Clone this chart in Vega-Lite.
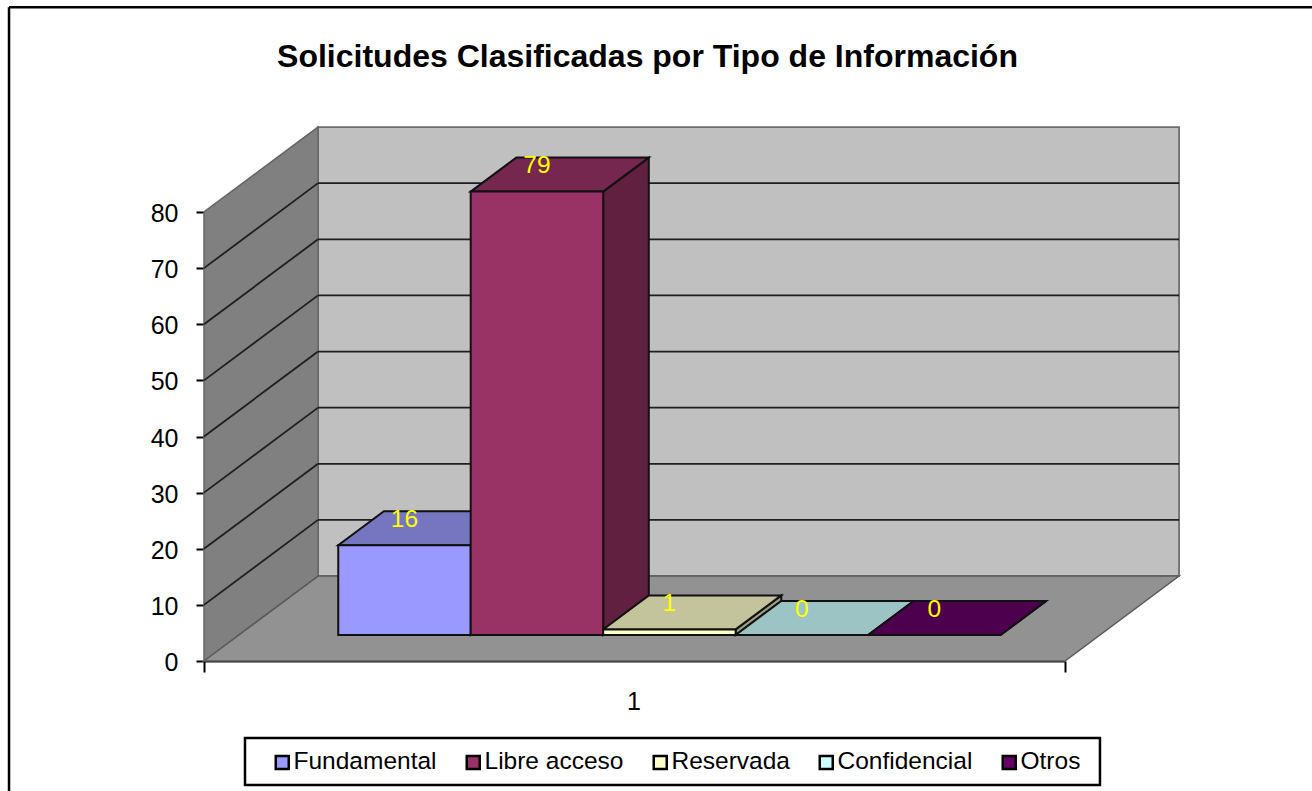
{
"$schema":"https://vega.github.io/schema/vega-lite/v6.json",
"width":861,"height":449,
"autosize":{"type":"none"},
"padding":{"left":204,"top":212,"right":247,"bottom":130},
"background":"white",
"config":{"view":{"stroke":null},"font":"Liberation Sans"},
"title":{"text":"Solicitudes Clasificadas por Tipo de Información","font":"Liberation Sans","fontSize":32,"fontWeight":"bold","color":"#000000","anchor":"middle","frame":"group","dx":13,"offset":-68},
"datasets":{
"barras":[
{"tipo":"Fundamental","orden":0,"valor":16},
{"tipo":"Libre acceso","orden":1,"valor":79},
{"tipo":"Reservada","orden":2,"valor":1},
{"tipo":"Confidencial","orden":3,"valor":0},
{"tipo":"Otros","orden":4,"valor":0}],
"profundidad":[{"d":0},{"d":1}],
"rejilla":[{"v":10},{"v":20},{"v":30},{"v":40},{"v":50},{"v":60},{"v":70}]
},
"resolve":{"scale":{"fill":"independent"}},
"layer":[
{"data":{"values":[{"a":0}]},
 "mark":{"type":"rule","stroke":"#000000","strokeWidth":2.5},
 "encoding":{"x":{"datum":-1.472,"type":"quantitative","scale":{"domain":[0,6.5],"nice":false,"zero":false},"axis":{"values":[0,3.25,6.5],"title":null,"grid":false,"domain":true,"domainColor":"#111111","domainWidth":2,"tickColor":"#000000","tickWidth":2,"tickSize":11,"tickOpacity":{"condition":{"test":"datum.value==3.25","value":0},"value":1},"labelExpr":"datum.value==3.25?'1':''","labelFont":"Liberation Sans","labelFontSize":25,"labelColor":"#000000","labelPadding":17,"labelOffset":-1,"labelFlush":false,"labelOverlap":false}},
 "y":{"datum":116.5,"type":"quantitative","scale":{"domain":[0,80],"nice":false,"zero":false},"axis":{"values":[0,10,20,30,40,50,60,70,80],"title":null,"grid":false,"domain":false,"tickColor":"#000000","tickWidth":2,"tickSize":8,"labelFont":"Liberation Sans","labelFontSize":25,"labelColor":"#000000","labelPadding":18,"labelOffset":1.5}},
 "y2":{"datum":-23.2}}},
{"data":{"values":[{"a":0}]},
 "mark":{"type":"rule","stroke":"#000000","strokeWidth":2.5},
 "encoding":{"x":{"datum":-1.472,"type":"quantitative"},"x2":{"datum":8.4},"y":{"datum":116.5,"type":"quantitative"}}},
{"data":{"values":[{"a":0}]},
 "mark":{"type":"rect","fill":"#C0C0C0","stroke":"#6E6E6E","strokeWidth":1.8},
 "encoding":{"x":{"datum":0.861,"type":"quantitative"},"x2":{"datum":7.361},"y":{"datum":15.14,"type":"quantitative"},"y2":{"datum":95.14}}},
{"data":{"name":"profundidad"},
 "transform":[{"calculate":"datum.d*0.861","as":"x"},{"calculate":"datum.d*15.14","as":"y"},{"calculate":"80+datum.d*15.14","as":"y2"},{"calculate":"6.5+datum.d*0.861","as":"x2"}],
 "layer":[
 {"mark":{"type":"area","fill":"#808080","stroke":"#666666","strokeWidth":1.5},
  "encoding":{"x":{"field":"x","type":"quantitative"},"y":{"field":"y","type":"quantitative","stack":null},"y2":{"field":"y2"}}},
 {"mark":{"type":"area","orient":"horizontal","fill":"#929292","stroke":"#5A5A5A","strokeWidth":1.5},
  "encoding":{"y":{"field":"y","type":"quantitative"},"x":{"field":"x","type":"quantitative","stack":null},"x2":{"field":"x2"}}}
 ]},
{"data":{"name":"rejilla"},
 "transform":[{"calculate":"datum.v+15.14","as":"vf"},{"calculate":"0.861","as":"xf"},{"calculate":"7.361","as":"xe"},{"calculate":"0","as":"x0"}],
 "layer":[
 {"mark":{"type":"rule","stroke":"#1E1E1E","strokeWidth":1.8},
  "encoding":{"x":{"field":"x0","type":"quantitative"},"x2":{"field":"xf"},"y":{"field":"v","type":"quantitative"},"y2":{"field":"vf"}}},
 {"mark":{"type":"rule","stroke":"#1E1E1E","strokeWidth":1.8},
  "encoding":{"x":{"field":"xf","type":"quantitative"},"x2":{"field":"xe"},"y":{"field":"vf","type":"quantitative"}}}
 ]},
{"data":{"name":"barras"},
 "transform":[{"calculate":"[0,1]","as":"e"},{"flatten":["e"]},{"calculate":"0.306+datum.e*0.4","as":"d"},{"calculate":"datum.orden+1.75+0.2635+(datum.d-0.306)*0.861","as":"x"},{"calculate":"datum.d*15.14","as":"y"},{"calculate":"datum.valor+datum.d*15.14","as":"y2"}],
 "mark":{"type":"area","stroke":"#111111","strokeWidth":2},
 "encoding":{"x":{"field":"x","type":"quantitative"},"y":{"field":"y","type":"quantitative","stack":null},"y2":{"field":"y2"},
 "fill":{"field":"tipo","type":"nominal","legend":null,"scale":{"domain":["Fundamental","Libre acceso","Reservada","Confidencial","Otros"],"range":["#5F5F9E","#612040","#9E9E7E","#7E9E9E","#400040"]}}}},
{"data":{"name":"barras"},
 "transform":[{"calculate":"[0,1]","as":"e"},{"flatten":["e"]},{"calculate":"0.306+datum.e*0.4","as":"d"},{"calculate":"datum.orden+0.75+datum.d*0.861","as":"x"},{"calculate":"datum.x+1","as":"x2"},{"calculate":"datum.valor+datum.d*15.14","as":"y"}],
 "mark":{"type":"area","orient":"horizontal","stroke":"#111111","strokeWidth":2},
 "encoding":{"y":{"field":"y","type":"quantitative"},"x":{"field":"x","type":"quantitative","stack":null},"x2":{"field":"x2"},
 "fill":{"field":"tipo","type":"nominal","legend":null,"scale":{"domain":["Fundamental","Libre acceso","Reservada","Confidencial","Otros"],"range":["#7676C0","#76274F","#C4C49C","#9CC4C4","#4D004D"]}}}},
{"data":{"values":[{"a":0}]},
 "mark":{"type":"rect","fill":"#FFFFFF","stroke":"#000000","strokeWidth":2.5},
 "encoding":{"x":{"datum":0.3095,"type":"quantitative"},"x2":{"datum":6.764},"y":{"datum":-13.72,"type":"quantitative"},"y2":{"datum":-22.09}}},
{"data":{"name":"barras"},
 "transform":[{"calculate":"datum.orden+0.75+0.2635","as":"x"},{"calculate":"datum.x+1","as":"x2"},{"calculate":"4.633","as":"y"},{"calculate":"datum.valor+4.633","as":"y2"}],
 "mark":{"type":"rect","stroke":"#111111","strokeWidth":2},
 "encoding":{"x":{"field":"x","type":"quantitative"},"x2":{"field":"x2"},"y":{"field":"y","type":"quantitative"},"y2":{"field":"y2"},
 "fill":{"field":"tipo","type":"nominal","scale":{"domain":["Fundamental","Libre acceso","Reservada","Confidencial","Otros"],"range":["#9999FF","#993366","#FFFFCC","#CCFFFF","#660066"]},
 "legend":{"title":null,"orient":"none","legendX":66,"legendY":538,"direction":"horizontal","columns":5,"symbolType":"square","symbolSize":169,"symbolStrokeColor":"#000000","symbolStrokeWidth":2.5,"symbolOpacity":1,"labelFont":"Liberation Sans","labelFontSize":24.5,"labelColor":"#000000","labelOffset":-1,"columnPadding":24,"labelLimit":300,"padding":0,"values":["Fundamental","Libre acceso","Reservada","Confidencial","Otros"]}}}},
{"data":{"name":"barras"},
 "transform":[{"calculate":"datum.orden+0.75+0.2635+0.5","as":"x"},{"calculate":"datum.valor+4.633+4.5","as":"y"}],
 "mark":{"type":"text","font":"Liberation Sans","fontSize":24.5,"fill":"#FFFF00","baseline":"middle","align":"center"},
 "encoding":{"x":{"field":"x","type":"quantitative"},"y":{"field":"y","type":"quantitative"},"text":{"field":"valor","type":"quantitative"}}}
]
}
